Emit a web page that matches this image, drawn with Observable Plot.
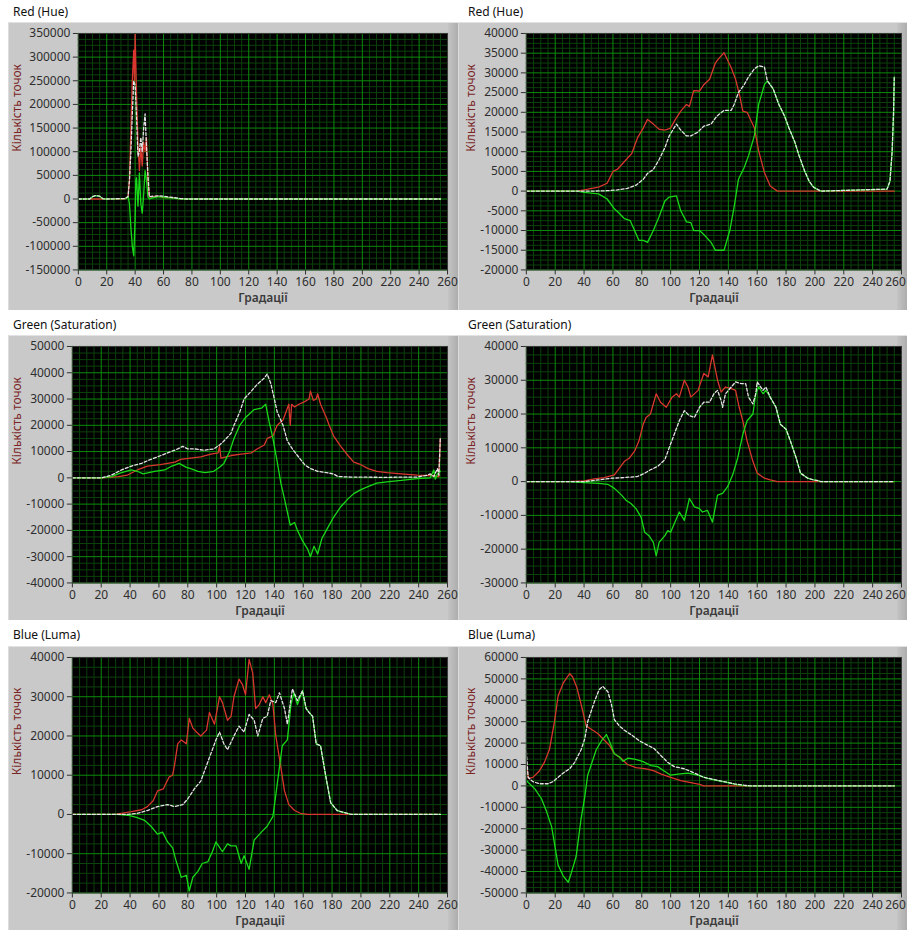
<!DOCTYPE html>
<html>
<head>
<meta charset="utf-8">
<script src="https://cdn.jsdelivr.net/npm/d3@7"></script>
<script src="https://cdn.jsdelivr.net/npm/@observablehq/plot@0.6"></script>
<style>
  html, body { margin: 0; padding: 0; background: #fff; }
  body { width: 907px; height: 930px; position: relative; overflow: hidden;
         font-family: "Segoe UI", "Noto Sans", "Open Sans", sans-serif; }
  .panel { position: absolute; background: #c9c9c9; box-sizing: border-box;
           border-top: 1px solid #e2e2e2; border-left: 1px solid #dcdcdc; }
  .panel .shade { position: absolute; top: 0; bottom: 0; right: 0; width: 10px;
           background: linear-gradient(to right, #c4c4c4, #adadad); }
  .panel svg { position: absolute; left: 0; top: 0; }
  .title { position: absolute; font-size: 12px; line-height: 16px; color: #111; white-space: nowrap; }
</style>
</head>
<body>
<div id="root"></div>
<script>
// ---------- data ----------
const xTicks = [0, 20, 40, 60, 80, 100, 120, 140, 160, 180, 200, 220, 240, 260];
const titles = ["Red (Hue)", "Red (Hue)", "Green (Saturation)", "Green (Saturation)", "Blue (Luma)", "Blue (Luma)"];
const xLabel = "Градації";
const yLabel = "Кількість точок";

const p1Ticks = [-150000, -100000, -50000, 0, 50000, 100000, 150000, 200000, 250000, 300000, 350000];
const p2Ticks = [-20000, -15000, -10000, -5000, 0, 5000, 10000, 15000, 20000, 25000, 30000, 35000, 40000];
const p3Ticks = [-40000, -30000, -20000, -10000, 0, 10000, 20000, 30000, 40000, 50000];
const p4Ticks = [-30000, -20000, -10000, 0, 10000, 20000, 30000, 40000];
const p5Ticks = [-20000, -10000, 0, 10000, 20000, 30000, 40000];
const p6Ticks = [-50000, -40000, -30000, -20000, -10000, 0, 10000, 20000, 30000, 40000, 50000, 60000];

// Panel 1 — Red (Hue), left
const p1Red = [[0,0],[33,0],[35,5000],[36,40000],[37,150000],[38,250000],[39,315000],[39.5,250000],[40,350000],[41,220000],[42,120000],[43,60000],[44,110000],[45,70000],[46,120000],[47,100000],[48,130000],[49,40000],[50,5000],[52,4000],[56,6000],[60,3000],[65,3000],[70,1000],[73,0],[255,0]];
const p1Green = [[0,0],[8,0],[10,5000],[12,7000],[15,6000],[17,1000],[19,0],[33,1000],[35,5000],[36,-10000],[37,-60000],[38,-100000],[39,-120000],[39.5,-80000],[40,-40000],[40.5,40000],[41,45000],[42,-15000],[43,55000],[44,-10000],[45,-30000],[46,10000],[47,60000],[48,40000],[49,5000],[50,0],[53,3000],[57,5000],[62,3000],[68,2000],[72,0],[255,0]];
const p1White = [[0,0],[8,0],[10,5000],[12,7000],[15,6000],[17,1000],[19,0],[33,1000],[35,5000],[36,40000],[37,100000],[38,180000],[39,250000],[40,240000],[41,170000],[42,90000],[43,100000],[44,130000],[45,100000],[46,150000],[47,180000],[48,110000],[49,50000],[50,5000],[53,6000],[57,7000],[62,5000],[67,3000],[72,1000],[76,0],[255,0]];

// Panel 2 — Red (Hue), right
const p2Red = [[0,0],[35,0],[40,300],[50,1000],[56,2000],[60,5000],[63,5500],[68,7500],[73,9500],[77,13500],[81,16000],[84,18200],[88,17000],[92,15700],[96,15500],[100,16000],[103,18000],[107,20300],[111,22000],[113,21500],[116,25500],[120,25400],[123,27000],[127,28400],[131,32500],[133,33500],[137,35100],[142,31300],[145,28400],[148,24000],[150,20300],[153,20000],[158,16100],[161,10200],[165,4700],[169,1300],[174,0],[255,0]];
const p2Green = [[0,0],[35,0],[40,-300],[50,-700],[56,-2000],[61,-4500],[64,-5500],[68,-7000],[72,-7500],[75,-10000],[78,-12500],[81,-12500],[84,-13000],[88,-10000],[92,-6500],[96,-2500],[99,-1500],[104,-1200],[107,-5000],[111,-7800],[114,-8000],[116,-10000],[120,-10000],[123,-11000],[128,-13000],[131,-15000],[137,-15000],[141,-10000],[144,-4000],[147,3000],[151,6000],[154,9000],[158,14000],[161,22000],[165,27000],[167,28000],[171,26000],[175,22000],[179,19000],[182,16000],[186,12500],[189,9000],[193,5000],[196,2500],[199,1000],[204,0],[250,500],[252,2500],[253.5,10000],[254.5,20000],[255,29000]];
const p2White = [[0,0],[45,0],[56,100],[63,300],[70,700],[76,1500],[81,3000],[84,4500],[88,5500],[92,8000],[96,11000],[99,14000],[104,17000],[107,15500],[111,14000],[114,14000],[119,15000],[123,16500],[128,17000],[132,19000],[137,20500],[142,20500],[144,22000],[147,25000],[151,27000],[154,29000],[158,31000],[161,31800],[165,31500],[167,28000],[171,26000],[175,22000],[179,19000],[182,16000],[186,12500],[189,9000],[193,5000],[196,2500],[199,1000],[204,0],[250,500],[252,2500],[253.5,10000],[254.5,20000],[255,29000]];

// Panel 3 — Green (Saturation), left
const p3Red = [[0,0],[20,0],[32,500],[38,1000],[45,3000],[52,4500],[61,5000],[71,6000],[75,7000],[82,7500],[89,8000],[96,9000],[101,9500],[102,12000],[103,7500],[110,8500],[117,9000],[124,9500],[128,11000],[133,12500],[135,15000],[139,16000],[142,20000],[146,22000],[148,25000],[150,28000],[151,20000],[152,28000],[154,27000],[157,28000],[161,29000],[164,30000],[165,33000],[167,29500],[169,30000],[170,32000],[172,28000],[176,23000],[178,20000],[181,16000],[186,12000],[191,8500],[195,6000],[200,5000],[205,3500],[211,2500],[218,2000],[228,1500],[239,1000],[251,800],[254,500],[255,15000]];
const p3Green = [[0,0],[20,0],[27,500],[34,2000],[41,3000],[45,2500],[49,1500],[57,2500],[64,3000],[69,4500],[74,5500],[79,4000],[82,3500],[87,2500],[92,2000],[98,2500],[102,4000],[105,5500],[109,10000],[112,15000],[116,20000],[120,23000],[126,26000],[131,26500],[134,28000],[136.5,21000],[139,15000],[142,6000],[144.5,-2000],[147,-8000],[149,-13000],[151,-18000],[154,-17000],[156,-20000],[159.5,-24000],[163,-27000],[165,-30000],[167.5,-26000],[170,-29000],[173,-23000],[178,-18000],[181,-15000],[186,-11000],[191,-8000],[195,-6000],[200,-4500],[204,-3500],[211,-2000],[218,-1500],[228,-1000],[239,-300],[248,0],[250.5,3000],[251.5,-500],[253,1500],[255,2500]];
const p3White = [[0,0],[20,0],[27,1000],[34,3000],[41,4500],[48,5500],[52,6500],[59,8000],[66,9500],[73,11000],[76.5,12000],[80,11000],[85,11000],[91,10500],[98,11000],[102,12500],[105,14000],[110,17000],[112,20000],[116,25000],[119,30000],[124,33000],[128,35500],[133,38000],[135,39500],[137.5,36000],[140,30000],[142,25000],[146,20000],[149,14000],[152.5,11000],[156,8500],[161,5000],[165,3500],[170,2500],[176,2000],[181,1500],[184,500],[193,300],[216,200],[239,300],[246,1000],[248,1500],[250.5,500],[253,3500],[254,1000],[255,15000]];

// Panel 4 — Green (Saturation), right
const p4Red = [[0,0],[29,0],[40,200],[47,800],[54,1200],[61,2000],[64.5,4000],[68,6000],[71.5,7000],[75,9000],[78,12000],[81,17000],[83,19000],[86,20000],[90,26000],[93,23500],[97,22000],[101,25000],[104,26000],[106,25000],[109.5,30000],[112,28000],[114,25000],[119,27000],[123,32000],[126,31000],[129,37500],[132.5,30000],[135,26500],[138,28000],[142,27500],[145,27000],[147.5,22000],[150,18000],[153,12000],[157,6000],[160,2500],[165,1000],[169,500],[174,0],[255,0]];
const p4Green = [[0,0],[29,0],[40,-300],[50,-500],[56.5,-800],[61,-2000],[66,-4000],[69,-5500],[72.5,-6500],[76,-8000],[79.5,-10500],[82,-15000],[85,-16000],[88,-18000],[90,-22000],[92,-18000],[96,-16000],[98,-14500],[100,-15000],[102.5,-12500],[106,-9000],[109.5,-11500],[113,-5000],[116.5,-7500],[120,-8000],[122,-9000],[125.5,-8500],[129,-12000],[132.5,-4000],[136,-3500],[139.5,-1500],[143,2000],[146.5,7000],[150,14000],[153,18000],[157,20000],[159,26000],[161,28000],[164,26000],[166,27000],[169,25000],[173,22000],[176,17000],[180,15500],[183,12000],[187,7000],[190,2500],[195,1000],[199,500],[202,300],[204,0],[255,0]];
const p4White = [[0,0],[40,0],[50,500],[59,1000],[68,1200],[77,1500],[82,2500],[86,3500],[91,4500],[96,6500],[99,10000],[102.5,14000],[106,18000],[109.5,21000],[113,19500],[116.5,19000],[120,22000],[123,23500],[127,23500],[130,26000],[132.5,27000],[135,24000],[136,22000],[138,26000],[142,28000],[145,29500],[149,29000],[152,29000],[154,25000],[157,23000],[159,26000],[160,29500],[164,27000],[166,28000],[169,25000],[173,22000],[176,17000],[180,15500],[183,12000],[187,7000],[190,2500],[195,1000],[199,500],[202,300],[204,0],[255,0]];

// Panel 5 — Blue (Luma), left
const p5Red = [[0,0],[29,0],[34,300],[41,700],[48,1200],[52,2000],[56,3500],[59,6000],[63,6500],[65,8000],[67,9500],[69.5,10000],[71,13000],[73,18000],[75.5,19000],[79,18000],[81,24500],[83.5,22000],[86,21000],[89,20000],[93,21500],[95,26000],[98.5,23000],[102,30000],[104,28500],[107.5,24000],[110,25000],[112,30000],[115.5,34500],[118,33000],[120,30500],[122.5,39500],[125,36000],[127,27000],[129.5,28000],[132,30000],[134,28500],[136.5,30500],[139,28000],[141,20000],[144.5,12000],[147,6000],[150,2500],[154,1000],[158,300],[163,0],[255,0]];
const p5Green = [[0,0],[31,0],[38.5,-200],[45,-800],[50,-1500],[54.5,-3000],[59,-5000],[62.5,-4500],[66,-7000],[69.5,-8500],[72,-12000],[75.5,-16000],[79,-15500],[81,-19500],[83.5,-16000],[87,-14500],[90,-12500],[94,-12000],[97,-9500],[99.5,-7000],[104,-9500],[107.5,-7500],[110,-8000],[113.5,-8000],[117,-12500],[119,-10500],[122.5,-14000],[126,-6500],[131,-4500],[135,-3000],[139,-500],[141,5000],[143.5,12000],[145.5,17500],[149,19000],[151.5,28000],[153.5,31000],[156,28000],[159.5,31500],[162,27000],[164,26000],[166.5,25000],[169,18000],[172,17500],[175.5,10000],[179,3000],[183.5,1000],[190.5,300],[193,0],[255,0]];
const p5White = [[0,0],[38,0],[45,300],[52,1000],[59,2000],[66,2500],[71,2000],[76.5,2500],[80,4000],[84.5,6500],[89,8500],[92.5,12000],[96,15500],[99.5,19000],[102,21000],[105,18000],[107.5,16500],[112,20000],[115.5,22500],[119,21000],[122.5,25500],[126,24000],[128.5,20000],[132,24500],[135,25000],[137.5,29000],[141,28500],[143.5,31000],[147,27000],[149,23000],[152.5,32000],[156,29000],[159.5,31500],[162,27000],[164,26000],[166.5,25000],[169,18000],[172,17500],[175.5,10000],[179,3000],[183.5,1000],[190.5,300],[193,0],[255,0]];

// Panel 6 — Blue (Luma), right
const p6Red = [[0,10000],[1.5,3500],[4.5,4000],[9,7000],[12.5,11000],[16,17000],[19.5,30000],[22,42000],[25.5,48000],[30,52500],[32,51000],[35,46000],[38,38000],[41.5,28000],[45,26500],[49.5,24500],[53,22000],[57.5,19000],[61,15000],[65.5,13000],[70,10000],[76,8500],[83,8000],[88.5,7000],[93.5,5500],[100,4000],[107,2500],[114,1500],[120,700],[123,0],[255,0]];
const p6Green = [[0,2500],[6,-1500],[10.5,-6000],[14,-12000],[17.5,-19000],[19.5,-27000],[22,-37000],[25.5,-42000],[29,-45000],[31,-41000],[34.5,-33000],[38,-15000],[40.5,-5000],[42.5,5000],[45,10000],[48.5,17000],[52,21000],[55.5,24000],[57.5,21000],[61,15000],[64.5,13500],[67,11500],[70.5,13000],[75,12500],[80.5,11500],[86.5,9500],[91,9000],[95.5,7000],[100,5000],[105,5500],[112,6000],[118.5,5000],[125.5,3500],[132.5,2500],[139.5,1500],[146.5,500],[153,0],[255,0]];
const p6White = [[0,16000],[1.2,4000],[4.5,2000],[9,1000],[15,1000],[18.5,2000],[22,4000],[26.5,6500],[30,8000],[33.5,11000],[38,17000],[40.5,22000],[42.5,30000],[45,35000],[47.5,40000],[50.5,45000],[53,46500],[56.5,44000],[59,38000],[61,31000],[64.5,28000],[68,26000],[72.5,24000],[78.5,21000],[84,19000],[88.5,17500],[93.5,14000],[98,11000],[102.5,9000],[109.5,8000],[116.5,6000],[123,4000],[130,3000],[137,2000],[144,1000],[151,300],[155.5,0],[255,0]];

// ---------- layout ----------
const FONT = '"Segoe UI", "Noto Sans", "Open Sans", sans-serif';
const MAJOR = "#0c8c0c", MINOR = "#0c420c";
const RED = "#d8362e", GREEN = "#18d818", WHITE = "#e4e4e4";

const cols = [
  {left: 8, width: 450, mR: 11, titleX: 13, lastDx: 0},
  {left: 458, width: 449, mR: 6, titleX: 468, lastDx: -6}
];
const rows = [
  {top: 22, h: 288, mB: 41, titleTop: 4},
  {top: 335, h: 285, mB: 38, titleTop: 317},
  {top: 646, h: 284, mB: 38, titleTop: 627}
];

const panels = [
  {red: p1Red, green: p1Green, white: p1White, ticks: p1Ticks, col: 0, row: 0, mL: 69, ydx: -61},
  {red: p2Red, green: p2Green, white: p2White, ticks: p2Ticks, col: 1, row: 0, mL: 67, ydx: -55},
  {red: p3Red, green: p3Green, white: p3White, ticks: p3Ticks, col: 0, row: 1, mL: 63, ydx: -55},
  {red: p4Red, green: p4Green, white: p4White, ticks: p4Ticks, col: 1, row: 1, mL: 67, ydx: -55},
  {red: p5Red, green: p5Green, white: p5White, ticks: p5Ticks, col: 0, row: 2, mL: 63, ydx: -55},
  {red: p6Red, green: p6Green, white: p6White, ticks: p6Ticks, col: 1, row: 2, mL: 67, ydx: -55}
];

// minor grid: 3 lines between each pair of major ticks
function subdivide(t) {
  const out = [];
  for (let i = 0; i < t.length - 1; i++) {
    const step = (t[i + 1] - t[i]) / 4;
    for (let k = 1; k < 4; k++) out.push(t[i] + k * step);
  }
  return out;
}

const root = document.getElementById("root");
const fmt = d => String(d);
const lastX = xTicks[xTicks.length - 1];

panels.forEach((p, i) => {
  const c = cols[p.col], r = rows[p.row];
  const title = document.createElement("div");
  title.className = "title";
  title.style.left = c.titleX + "px";
  title.style.top = r.titleTop + "px";
  title.textContent = titles[i];
  root.appendChild(title);

  const box = document.createElement("div");
  box.className = "panel";
  box.style.left = c.left + "px";
  box.style.top = r.top + "px";
  box.style.width = c.width + "px";
  box.style.height = r.h + "px";
  const shade = document.createElement("div");
  shade.className = "shade";
  box.appendChild(shade);

  const yDomain = [p.ticks[0], p.ticks[p.ticks.length - 1]];
  const lineOpts = (stroke, extra) => Object.assign({x: d => d[0], y: d => d[1], stroke, strokeWidth: 1.3, clip: true}, extra || {});
  const svg = Plot.plot({
    width: c.width, height: r.h,
    marginLeft: p.mL, marginRight: c.mR, marginTop: 10, marginBottom: r.mB,
    style: {background: "transparent", fontFamily: FONT, fontSize: "12px", color: "#2e2e2e", overflow: "visible"},
    x: {domain: [0, 260], ticks: xTicks, tickSize: 5, tickPadding: 3,
        tickFormat: d => (d === lastX ? "" : String(d)), label: null},
    y: {domain: yDomain, ticks: p.ticks, tickSize: 5, tickPadding: 3, tickFormat: fmt, label: null},
    marks: [
      Plot.frame({fill: "#000"}),
      Plot.ruleX(subdivide(xTicks), {stroke: MINOR, strokeOpacity: 1}),
      Plot.ruleY(subdivide(p.ticks), {stroke: MINOR, strokeOpacity: 1}),
      Plot.ruleX(xTicks, {stroke: MAJOR, strokeOpacity: 1}),
      Plot.ruleY(p.ticks, {stroke: MAJOR, strokeOpacity: 1}),
      Plot.line(p.red, lineOpts(RED)),
      Plot.line(p.green, lineOpts(GREEN)),
      Plot.line(p.white, lineOpts(WHITE, {strokeDasharray: "3,2"})),
      Plot.frame({stroke: "#3a3a3a"}),
      Plot.text([lastX], {x: d => d, text: fmt, frameAnchor: "bottom", lineAnchor: "top", dy: 8, dx: c.lastDx, fill: "#2e2e2e", fontSize: 12}),
      Plot.text([xLabel], {text: d => d, frameAnchor: "bottom", dy: 32, fontWeight: "600", fill: "#3a3a3a", fontSize: 12}),
      Plot.text([yLabel], {text: d => d, frameAnchor: "left", dx: p.ydx, rotate: -90, fill: "#7a2424", fontSize: 12})
    ]
  });
  box.appendChild(svg);
  root.appendChild(box);
});
</script>
</body>
</html>
